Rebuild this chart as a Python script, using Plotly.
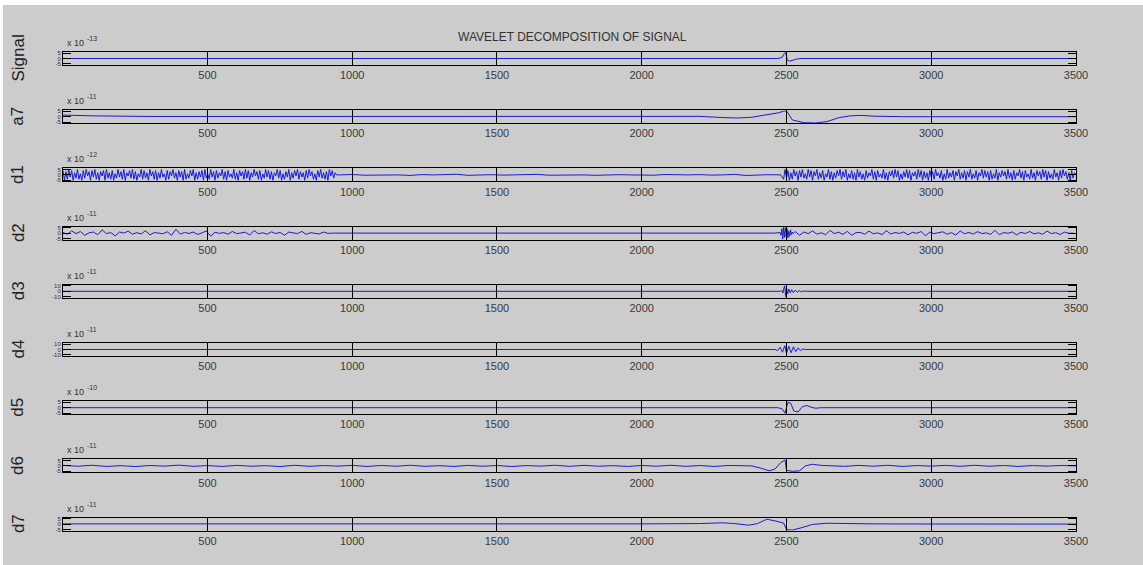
import plotly.graph_objects as go

# ---------------- data ----------------
row_names = ["Signal", "a7", "d1", "d2", "d3", "d4", "d5", "d6", "d7"]
exponents = ["-13", "-11", "-12", "-11", "-11", "-11", "-10", "-11", "-11"]
y_limits = [5, 5, 5, 5, 10, 10, 5, 5, 5]
x_tick_vals = [500, 1000, 1500, 2000, 2500, 3000, 3500]
title_text = "WAVELET DECOMPOSITION OF SIGNAL"

signal_x = [1, 2470, 2485, 2492, 2497, 2500, 2503, 2510, 2520, 2535, 2550, 3500]
signal_y = [0, 0, 1.0, 4.5, 5.5, 2.0, -1.5, -2.5, -1.5, -0.5, 0, 0]

a7_x = [1, 100, 300, 600, 900, 1200, 1500, 1800, 2000, 2100, 2200, 2280, 2330, 2380,
        2430, 2470, 2490, 2500, 2520, 2560, 2600, 2640, 2680, 2720, 2760, 2800, 2900,
        3100, 3300, 3500]
a7_y = [1.5, 0.8, 0.2, 0.3, 0.1, 0.2, 0.1, 0.3, 0.5, 0.8, 0.3, -0.8, -1.2, -0.5,
        1.5, 3.5, 5.0, 5.5, -3.0, -5.5, -5.8, -4.5, -1.0, 0.8, 1.2, 0.5, 0.0,
        0.2, 0.1, 0.0]

# d1: segments given as (start, step, values)
d1_left_start, d1_left_step = 1, 5
d1_left = [4, -5, 3, -4, 5, -2, 4, -5, 2, -3, 5, -4, 1, -5, 4, -3, 5, -1, 3, -5,
           4, -2, 5, -4, 2, -5, 3, -1, 4, -5, 5, -3, 2, -4, 4, -5, 1, -3, 5, -2,
           3, -4, 5, -5, 2, -1, 4, -3, 5, -4, 3, -5, 1, -2, 5, -4, 4, -3, 2, -5,
           5, -1, 3, -4, 4, -5, 2, -3, 5, -2, 1, -5, 4, -4, 3, -1, 5, -3, 2, -5,
           4, -2, 3, -5, 5, -4, 1, -3, 4, -1, 5, -5, 2, -4, 3, -2, 4, -5, 5, -3,
           1, -4, 5, -2, 3, -5, 4, -3, 2, -1, 5, -4, 3, -5, 4, -2, 1, -3, 5, -4,
           2, -5, 4, -1, 3, -4, 5, -3, 4, -5, 2, -2, 5, -1, 3, -4, 4, -5, 1, -3,
           5, -2, 4, -4, 3, -5, 2, -1, 5, -3, 4, -5, 1, -4, 3, -2, 5, -5, 2, -3,
           4, -1, 5, -4, 3, -2, 2, -5, 4, -3, 5, -1, 3, -4, 1, -5, 4, -2, 5, -3,
           2, -4, 3, -5, 5, -1, 4, -3, 2, 0]
d1_mid_start, d1_mid_step = 960, 40
d1_mid = [0, 0.4, -0.3, 0, 0.2, 0, -0.5, 0.3, 0, 0, 0.6, -0.4, 0, 0.2, -0.2, 0, 0, 0.5,
          -0.3, 0, 0.3, 0, -0.4, 0, 0.2, 0, 0, -0.3, 0.4, 0, 0, 0.3, -0.2, 0, 0.5, -0.5,
          0, 0.2, 0]
d1_right_start, d1_right_step = 2490, 5
d1_right = [-4, 5, -3, 4, -5, 2, -4, 5, -1, 3, -5, 4, -2, 5, -3, 1, -4, 5, -2, 4,
            -5, 3, -1, 5, -4, 2, -3, 4, -5, 1, -2, 5, -4, 3, -5, 2, -3, 4, -1, 5,
            -4, 3, -2, 5, -5, 1, -3, 4, -4, 2, -5, 5, -2, 3, -4, 1, -5, 4, -3, 2,
            -1, 5, -4, 3, -5, 4, -2, 1, -3, 5, -4, 2, -5, 3, -1, 4, -3, 5, -2, 4,
            -5, 1, -4, 3, -2, 5, -3, 4, -5, 2, -1, 3, -4, 5, -2, 4, -5, 3, -3, 2,
            -5, 4, -2, 3, -4, 5, -1, 2, -3, 4, -5, 1, -4, 5, -3, 2, -2, 4, -5, 3,
            -1, 5, -4, 2, -3, 4, -5, 3, -2, 5, -4, 1, -3, 4, -5, 2, -1, 5, -3, 4,
            -2, 3, -5, 4, -4, 1, -3, 5, -5, 2, -2, 4, -1, 3, -4, 5, -3, 2, -5, 4,
            -4, 2, -1, 5, -3, 3, -5, 4, -2, 1, -4, 5, -3, 2, -5, 4, -1, 3, -4, 5,
            -2, 4, -5, 3, -3, 1, -4, 5, -2, 2, -5, 4, -3, 5, -1, 3, -4, 2, -5, 4,
            -3, 2, 0]

d2_left_start, d2_left_step = 1, 15
d2_left = [0.5, -1, 2, -0.5, 1.5, -2, 0.3, 1, -1.5, 3, -0.5, 0.5, -2.5, 1, 0, 1.8, -1,
           0.4, -0.8, 2.2, -1.6, 0.5, 0, -0.6, 1.2, -2, 3.5, -1, 0.6, -0.4, 1, -1.2, 0.2,
           2, -2.8, 0.8, -0.3, 0.5, -1, 1.5, -0.5, 0, 0.8, -1.8, 2.4, -0.6, 0.3, -1, 1.2,
           -0.4, 0.6, -2, 1, 0.2, -0.5, 1.6, -1.2, 0.4, 0, -0.8, 1, -0.3, 0]
d2_mid_start, d2_mid_step = 960, 60
d2_mid = [0, 0.2, -0.1, 0, 0.1, 0, -0.2, 0, 0.1, 0, 0, -0.1, 0.2, 0, 0, 0.1, -0.1, 0,
          0.2, 0, -0.1, 0, 0.1, 0, 0, 0]
d2_burst_start, d2_burst_step = 2478, 3
d2_burst = [0.5, -2, 4, -5.5, 5.5, -4, 5, -3, 4, -4.5, 2, -3, 3, -1.5, 1, -0.5]
d2_right_start, d2_right_step = 2530, 15
d2_right = [1.5, -2, 1, -0.5, 2, -1, 0.3, -1.5, 2.5, -0.4, 0.8, -1.2, 1.6, -2, 0.4, 0.6,
            -1, 1.8, -0.6, 0.2, -1.4, 2.2, -0.8, 0.5, -0.3, 1, -1.6, 0.7, -0.2, 1.4, -2.4,
            0.9, -0.5, 0.3, 1.2, -1, 0.4, -1.8, 2, -0.6, 0.6, -0.9, 1.3, -0.4, 0.2, -1.2,
            2.6, -1.5, 0.5, -0.2, 1.1, -1.7, 0.8, -0.4, 1.5, -0.7, 0.3, -1.1, 1.9, -0.5,
            0.4, -1.3, 0.9, -0.2, 0]

d3_x = [1, 2478, 2484, 2488, 2491, 2494, 2497, 2500, 2504, 2508, 2513, 2518, 2524, 2530,
        2537, 2544, 2552, 2560, 2570, 3500]
d3_y = [0, 0, 1.5, -3, 6, 10, -10, 7, -5, 4, -3, 3, -2.5, 2, -1.5, 1.2, -0.8, 0.5, 0, 0]

d4_x = [1, 2460, 2470, 2478, 2486, 2494, 2500, 2508, 2516, 2524, 2532, 2540, 2548,
        2556, 2565, 2590, 3500]
d4_y = [0, 0, -2, 4, -5, 7, -7, 6, -6, 5, -4, 3, -2, 1, 0, 0, 0]

d5_x = [1, 2470, 2485, 2495, 2505, 2515, 2525, 2540, 2555, 2570, 2585, 2600, 2620, 3500]
d5_y = [0, 0, -1, -5, 5, 4, -3, -4, 1, 2, 0.5, -0.5, 0, 0]

d6_pre_start, d6_pre_step = 1, 50
d6_pre = [0.5, -0.3, 0.6, -0.5, 0.2, -0.6, 0.4, -0.2, 0.7, -0.4, 0.3, -0.5, 0.5, -0.3,
          0.2, -0.6, 0.6, -0.4, 0.3, -0.2, 0.5, -0.5, 0.4, -0.3, 0.6, -0.4, 0.2, -0.5,
          0.5, -0.3, 0.4, -0.6, 0.3, -0.2, 0.6, -0.4, 0.5, -0.3, 0.2, -0.5, 0.4, -0.3,
          0.6, -0.4, 0.3, -0.5, 0.4, -0.2]
d6_event_x = [2380, 2410, 2440, 2460, 2480, 2495, 2500, 2520, 2545, 2565, 2590, 2620, 2660]
d6_event_y = [0, -2, -4.5, -3, 3, 5.5, -4, -5, -4.5, 0, 1.5, 0.5, 0.3]
d6_post_start, d6_post_step = 2700, 50
d6_post = [-0.4, 0.5, -0.3, 0.6, -0.5, 0.3, -0.2, 0.5, -0.4, 0.6, -0.3, 0.4, -0.5,
           0.3, -0.2, 0.4, 0]

d7_x = [1, 500, 1000, 1500, 2000, 2200, 2280, 2320, 2370, 2400, 2432, 2460, 2490, 2500,
        2520, 2550, 2590, 2640, 2700, 2800, 3000, 3500]
d7_y = [0.2, 0.1, 0.2, 0.1, 0.2, 0.5, 1.2, 0.5, -1.0, 0.5, 4.5, 3.0, 1.0, -5.0, -5.5,
        -3.5, -0.3, 0.8, 0.5, 0.2, 0.1, 0]


def seg(start, step, vals):
    return [start + step * k for k in range(len(vals))], list(vals)


def join(*parts):
    xs, ys = [], []
    for px, py in parts:
        xs += px
        ys += py
    return xs, ys


d1_x, d1_y = join(seg(d1_left_start, d1_left_step, d1_left),
                  seg(d1_mid_start, d1_mid_step, d1_mid),
                  seg(d1_right_start, d1_right_step, d1_right))
d2_x, d2_y = join(seg(d2_left_start, d2_left_step, d2_left),
                  seg(d2_mid_start, d2_mid_step, d2_mid),
                  seg(d2_burst_start, d2_burst_step, d2_burst),
                  seg(d2_right_start, d2_right_step, d2_right))
d6_x, d6_y = join(seg(d6_pre_start, d6_pre_step, d6_pre),
                  (d6_event_x, d6_event_y),
                  seg(d6_post_start, d6_post_step, d6_post))

series = [(signal_x, signal_y), (a7_x, a7_y), (d1_x, d1_y), (d2_x, d2_y), (d3_x, d3_y),
          (d4_x, d4_y), (d5_x, d5_y), (d6_x, d6_y), (d7_x, d7_y)]

# ---------------- layout geometry (pixels) ----------------
W, H = 1143, 565
L, R, T, B = 63, 1076, 52, 531
PW, PH = R - L, B - T
ROW_PITCH = 58.2
ROW_H = 13

FONT = "Liberation Sans, Arial, sans-serif"
LINE_BLUE = "#1a1ad8"
BG_GRAY = "#cccccc"


def px_to_paper_x(px):
    return (px - L) / PW


def px_to_paper_y(py):
    return (B - py) / PH


fig = go.Figure()
layout = dict(
    width=W, height=H,
    margin=dict(l=L, r=W - R, t=T, b=H - B, pad=0),
    paper_bgcolor="white",
    plot_bgcolor="white",
    showlegend=False,
    font=dict(family=FONT, color="#222222"),
)
annotations = []

for i, ((xs, ys), name, ex, lim) in enumerate(zip(series, row_names, exponents, y_limits)):
    top = T + ROW_PITCH * i
    bot = top + ROW_H
    sfx = "" if i == 0 else str(i + 1)
    fig.add_trace(go.Scatter(x=xs, y=ys, mode="lines",
                             line=dict(color=LINE_BLUE, width=1),
                             xaxis="x" + sfx, yaxis="y" + sfx, hoverinfo="skip"))
    layout["xaxis" + sfx] = dict(
        domain=[0, 1], anchor="y" + sfx, range=[1, 3500],
        tickmode="array", tickvals=x_tick_vals, ticktext=[str(v) for v in x_tick_vals],
        ticks="inside", ticklen=9, tickwidth=1, tickcolor="black",
        showline=True, linecolor="black", linewidth=1, mirror="ticks",
        showgrid=False, zeroline=False,
        tickfont=dict(family=FONT, size=11, color="#3a3a3a"),
    )
    layout["yaxis" + sfx] = dict(
        domain=[px_to_paper_y(bot), px_to_paper_y(top)], anchor="x" + sfx,
        range=[-1.2 * lim, 1.2 * lim],
        tickmode="array", tickvals=[-lim, 0, lim], ticktext=[str(-lim), "0", str(lim)],
        ticks="inside", ticklen=8, tickwidth=1, tickcolor="black",
        showline=True, linecolor="black", linewidth=1, mirror="ticks",
        showgrid=False, zeroline=False,
        tickfont=dict(family=FONT, size=6, color="#333333"),
    )
    annotations.append(dict(
        text=name, textangle=-90, xref="paper", yref="paper",
        x=px_to_paper_x(18), y=px_to_paper_y((top + bot) / 2),
        xanchor="center", yanchor="middle", showarrow=False,
        font=dict(family=FONT, size=17, color="#222222")))
    # "x 10" base text and its raised exponent as two plain-text labels
    annotations.append(dict(
        text="x 10", xref="paper", yref="paper",
        x=px_to_paper_x(65), y=px_to_paper_y(top - 2),
        xanchor="left", yanchor="bottom", showarrow=False,
        font=dict(family=FONT, size=9, color="#333333")))
    annotations.append(dict(
        text=ex, xref="paper", yref="paper",
        x=px_to_paper_x(85), y=px_to_paper_y(top - 8),
        xanchor="left", yanchor="bottom", showarrow=False,
        font=dict(family=FONT, size=7, color="#333333")))

annotations.append(dict(
    text=title_text, xref="paper", yref="paper",
    x=px_to_paper_x(572), y=px_to_paper_y(37),
    xanchor="center", yanchor="middle", showarrow=False,
    font=dict(family=FONT, size=12, color="#333333")))

layout["annotations"] = annotations
layout["shapes"] = [dict(
    type="rect", xref="paper", yref="paper", layer="below",
    x0=px_to_paper_x(3), x1=px_to_paper_x(1143),
    y0=px_to_paper_y(565), y1=px_to_paper_y(5),
    fillcolor=BG_GRAY, line=dict(width=0))]

fig.update_layout(**layout)
fig.write_html("out.html")
